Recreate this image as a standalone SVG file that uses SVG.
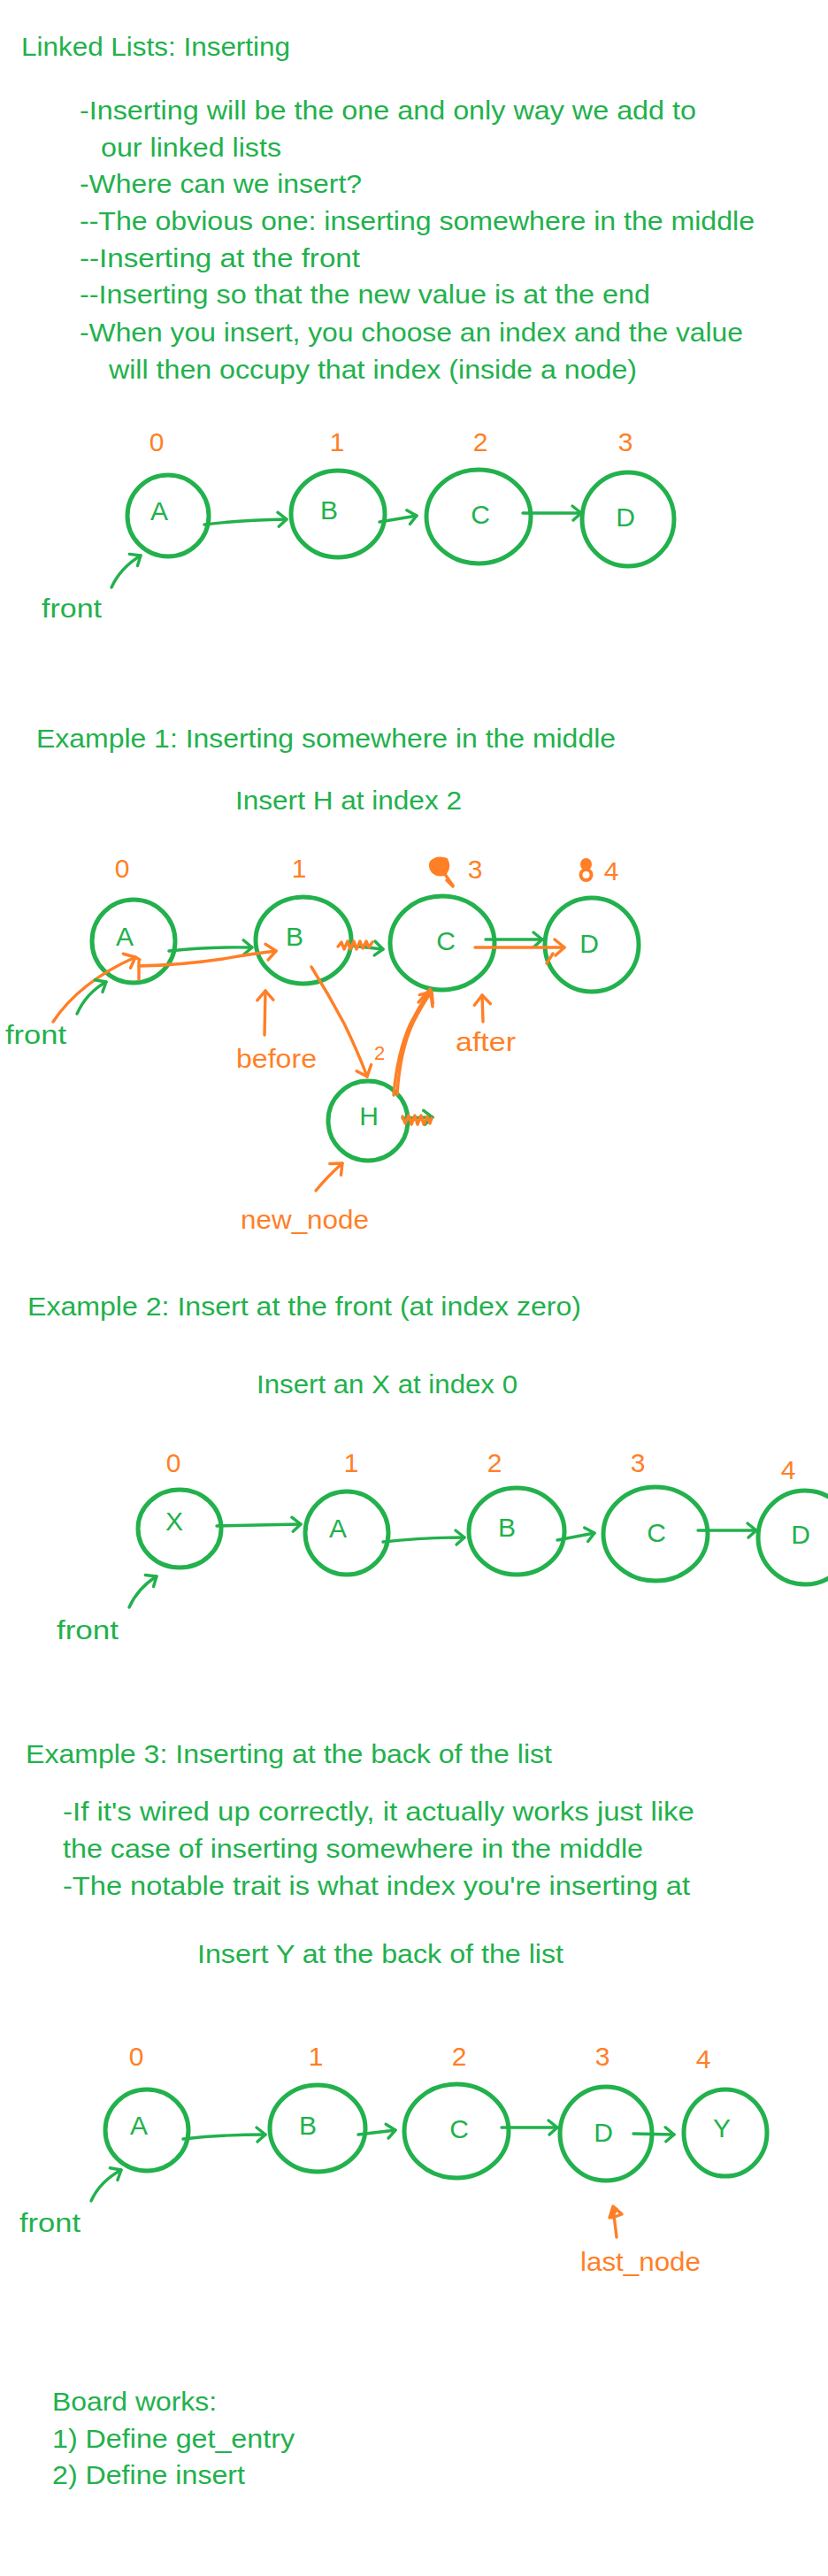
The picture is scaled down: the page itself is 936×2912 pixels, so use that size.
<svg xmlns="http://www.w3.org/2000/svg" width="936" height="2912" viewBox="0 0 936 2912">
<style>
text{font-family:"Liberation Sans",Arial,sans-serif;font-size:30px;fill:#22B14C}
.o{fill:#FF7F27}
.n{text-anchor:middle;font-size:30px}
.lbl{text-anchor:middle;font-size:30px;fill:#FF7F27}
ellipse{fill:none;stroke:#22B14C;stroke-width:5}
.g{fill:none;stroke:#22B14C;stroke-width:3.4;stroke-linecap:round;stroke-linejoin:round}
.r{fill:none;stroke:#FF7F27;stroke-width:3.4;stroke-linecap:round;stroke-linejoin:round}
.ga{marker-end:url(#ag)}
.ra{marker-end:url(#ao)}
</style>
<defs>
<marker id="ag" viewBox="-14 -11 17 22" markerWidth="17" markerHeight="22" refX="0" refY="0" orient="auto" markerUnits="userSpaceOnUse"><path d="M-10,-8 L0,0 L-9,8" fill="none" stroke="#22B14C" stroke-width="3.4" stroke-linecap="round" stroke-linejoin="round"/></marker>
<marker id="ao" viewBox="-14 -11 17 22" markerWidth="17" markerHeight="22" refX="0" refY="0" orient="auto" markerUnits="userSpaceOnUse"><path d="M-11,-9 L0,0 L-10,9" fill="none" stroke="#FF7F27" stroke-width="3.4" stroke-linecap="round" stroke-linejoin="round"/></marker>
</defs>
<rect width="936" height="2912" fill="#fff"/>

<g id="intro-text">
<text x="24" y="63" textLength="304" lengthAdjust="spacingAndGlyphs">Linked Lists: Inserting</text>
<text x="90" y="135" textLength="697" lengthAdjust="spacingAndGlyphs">-Inserting will be the one and only way we add to</text>
<text x="114" y="177" textLength="204" lengthAdjust="spacingAndGlyphs">our linked lists</text>
<text x="90" y="218" textLength="319" lengthAdjust="spacingAndGlyphs">-Where can we insert?</text>
<text x="90" y="260" textLength="763" lengthAdjust="spacingAndGlyphs">--The obvious one: inserting somewhere in the middle</text>
<text x="90" y="302" textLength="317" lengthAdjust="spacingAndGlyphs">--Inserting at the front</text>
<text x="90" y="343" textLength="645" lengthAdjust="spacingAndGlyphs">--Inserting so that the new value is at the end</text>
<text x="90" y="386" textLength="750" lengthAdjust="spacingAndGlyphs">-When you insert, you choose an index and the value</text>
<text x="123" y="428" textLength="597" lengthAdjust="spacingAndGlyphs">will then occupy that index (inside a node)</text>
</g>

<g id="s1-indices">
<text class="lbl" x="177" y="510">0</text>
<text class="lbl" x="381" y="510">1</text>
<text class="lbl" x="543" y="510">2</text>
<text class="lbl" x="707" y="510">3</text>
</g>
<g id="s1-node-A"><ellipse cx="190" cy="583" rx="46" ry="46"/><text class="n" x="180" y="588">A</text></g>
<g id="s1-node-B"><ellipse cx="382" cy="581" rx="53" ry="49"/><text class="n" x="372" y="587">B</text></g>
<g id="s1-node-C"><ellipse cx="541" cy="584" rx="59" ry="53"/><text class="n" x="543" y="592">C</text></g>
<g id="s1-node-D"><ellipse cx="710" cy="587" rx="52" ry="53"/><text class="n" x="707" y="595">D</text></g>
<g id="s1-front"><text x="47" y="698" textLength="68" lengthAdjust="spacingAndGlyphs">front</text></g>

<text x="41" y="845" textLength="655" lengthAdjust="spacingAndGlyphs">Example 1: Inserting somewhere in the middle</text>
<text x="266" y="915" textLength="256" lengthAdjust="spacingAndGlyphs">Insert H at index 2</text>

<g id="e1-indices">
<text class="lbl" x="138" y="992">0</text>
<text class="lbl" x="338" y="992">1</text>
<text class="lbl" x="537" y="993">3</text>
<text class="lbl" x="691" y="995">4</text>
<path d="M487 974 Q494 967 505 971 Q510 979 504 988 Q496 992 489 986 Q484 980 487 974 Z" fill="#FF7F27" stroke="#FF7F27" stroke-width="2"/>
<path class="r" d="M500 984 L512 1001 M505 995 L512 1002"/>
<ellipse cx="662.5" cy="977" rx="5" ry="5.5" style="stroke:#FF7F27;fill:#FF7F27;stroke-width:3"/>
<ellipse cx="662.5" cy="989" rx="6" ry="6" style="stroke:#FF7F27;fill:none;stroke-width:4"/>
</g>
<g id="e1-node-A"><ellipse cx="151" cy="1064" rx="47" ry="47"/><text class="n" x="141" y="1069">A</text></g>
<g id="e1-node-B"><ellipse cx="343" cy="1063" rx="54" ry="49"/><text class="n" x="333" y="1069">B</text></g>
<g id="e1-node-C"><ellipse cx="500" cy="1066" rx="59" ry="53"/><text class="n" x="504" y="1074">C</text></g>
<g id="e1-node-D"><ellipse cx="669" cy="1068" rx="53" ry="53"/><text class="n" x="666" y="1077">D</text></g>
<g id="e1-node-H"><ellipse cx="416" cy="1267" rx="45" ry="45"/><text class="n" x="417" y="1272">H</text></g>
<g id="e1-labels">
<text x="6" y="1180" textLength="69" lengthAdjust="spacingAndGlyphs">front</text>
<text class="o" x="267" y="1207" textLength="91" lengthAdjust="spacingAndGlyphs">before</text>
<text class="o" x="515" y="1188" textLength="68" lengthAdjust="spacingAndGlyphs">after</text>
<text class="o" x="272" y="1389" textLength="145" lengthAdjust="spacingAndGlyphs">new_node</text>
<text class="o" x="423" y="1198" style="font-size:22px">2</text>
</g>

<text x="31" y="1487" textLength="626" lengthAdjust="spacingAndGlyphs">Example 2: Insert at the front (at index zero)</text>
<text x="290" y="1575" textLength="295" lengthAdjust="spacingAndGlyphs">Insert an X at index 0</text>
<g id="e2-indices">
<text class="lbl" x="196" y="1664">0</text>
<text class="lbl" x="397" y="1664">1</text>
<text class="lbl" x="559" y="1664">2</text>
<text class="lbl" x="721" y="1664">3</text>
<text class="lbl" x="891" y="1672">4</text>
</g>
<g id="e2-node-X"><ellipse cx="203" cy="1728" rx="47" ry="44"/><text class="n" x="197" y="1730">X</text></g>
<g id="e2-node-A"><ellipse cx="392" cy="1733" rx="47" ry="47"/><text class="n" x="382" y="1738">A</text></g>
<g id="e2-node-B"><ellipse cx="584" cy="1731" rx="54" ry="49"/><text class="n" x="573" y="1737">B</text></g>
<g id="e2-node-C"><ellipse cx="741" cy="1734" rx="59" ry="53"/><text class="n" x="742" y="1743">C</text></g>
<g id="e2-node-D"><ellipse cx="910" cy="1738" rx="53" ry="53"/><text class="n" x="905" y="1745">D</text></g>
<g id="e2-front"><text x="64" y="1853" textLength="70" lengthAdjust="spacingAndGlyphs">front</text></g>

<g id="e3-text">
<text x="29" y="1993" textLength="595" lengthAdjust="spacingAndGlyphs">Example 3: Inserting at the back of the list</text>
<text x="71" y="2058" textLength="714" lengthAdjust="spacingAndGlyphs">-If it's wired up correctly, it actually works just like</text>
<text x="71" y="2100" textLength="656" lengthAdjust="spacingAndGlyphs">the case of inserting somewhere in the middle</text>
<text x="71" y="2142" textLength="709" lengthAdjust="spacingAndGlyphs">-The notable trait is what index you're inserting at</text>
<text x="223" y="2219" textLength="414" lengthAdjust="spacingAndGlyphs">Insert Y at the back of the list</text>
</g>
<g id="e3-indices">
<text class="lbl" x="154" y="2335">0</text>
<text class="lbl" x="357" y="2335">1</text>
<text class="lbl" x="519" y="2335">2</text>
<text class="lbl" x="681" y="2335">3</text>
<text class="lbl" x="795" y="2338">4</text>
</g>
<g id="e3-node-A"><ellipse cx="166" cy="2408" rx="47" ry="46"/><text class="n" x="157" y="2413">A</text></g>
<g id="e3-node-B"><ellipse cx="359" cy="2406" rx="54" ry="49"/><text class="n" x="348" y="2413">B</text></g>
<g id="e3-node-C"><ellipse cx="516" cy="2409" rx="59" ry="53"/><text class="n" x="519" y="2417">C</text></g>
<g id="e3-node-D"><ellipse cx="685" cy="2412" rx="52" ry="53"/><text class="n" x="682" y="2421">D</text></g>
<g id="e3-node-Y"><ellipse cx="820" cy="2411" rx="47" ry="49"/><text class="n" x="816" y="2416">Y</text></g>
<g id="e3-labels">
<text x="22" y="2523" textLength="69" lengthAdjust="spacingAndGlyphs">front</text>
<text class="o" x="656" y="2567" textLength="136" lengthAdjust="spacingAndGlyphs">last_node</text>
</g>

<g id="board-works">
<text x="59" y="2725" textLength="186" lengthAdjust="spacingAndGlyphs">Board works:</text>
<text x="59" y="2767" textLength="274" lengthAdjust="spacingAndGlyphs">1) Define get_entry</text>
<text x="59" y="2808" textLength="218" lengthAdjust="spacingAndGlyphs">2) Define insert</text>
</g>

<g id="connectors">
<path class="g ga" d="M231 593 Q270 588 324 587"/>
<path class="g ga" d="M429 590 L471 583"/>
<path class="g ga" d="M591 580 L657 580"/>
<path class="g ga" d="M126 664 Q136 642 159 628"/>
<path class="g ga" d="M191 1075 Q235 1070 285 1071"/>
<path class="r ra" d="M157 1092 Q205 1091 252 1084 Q285 1078 312 1075"/>
<path class="r" d="M157 1087 L157 1107 M153 1082 L158 1085"/>
<path class="r ra" d="M60 1155 Q90 1110 153 1082"/>
<path class="g ga" d="M87 1146 Q98 1122 120 1110"/>
<path class="g ga" d="M396 1069 L433 1073"/>
<path class="r" d="M382 1070 l4 -5 l3 8 l4 -9 l3 9 l4 -9 l3 9 l4 -9 l3 8 l4 -8 l3 7 l4 -6"/>
<path class="g ga" d="M549 1062 L613 1062"/>
<path class="r ra" d="M537 1071 L638 1071"/>
<path class="r" d="M625 1078 L618 1089"/>
<path class="r ra" d="M352 1093 Q372 1125 389 1157 Q405 1190 415 1217"/>
<path class="r" d="M445 1238 Q449 1190 464 1157 Q474 1138 485 1121"/>
<path class="r ra" d="M449 1237 Q452 1188 467 1156 Q477 1136 488 1121"/>
<path class="r" d="M473 1133 L486 1118 L489 1138 M478 1128 L487 1125"/>
<path class="g ga" d="M455 1264 L489 1263"/>
<path class="r" d="M455 1262 l3 8 l4 -9 l3 10 l4 -10 l3 10 l4 -10 l3 10 l4 -9 l3 8 l2 -6"/>
<path class="r ra" d="M299 1170 L300 1120"/>
<path class="r ra" d="M546 1155 L545 1125"/>
<path class="r ra" d="M357 1346 Q370 1330 387 1315"/>
<path class="g ga" d="M245 1725 Q290 1724 340 1723"/>
<path class="g ga" d="M433 1743 Q480 1738 525 1738"/>
<path class="g ga" d="M630 1741 L672 1733"/>
<path class="g ga" d="M789 1730 L855 1730"/>
<path class="g ga" d="M146 1817 Q156 1795 177 1782"/>
<path class="g ga" d="M207 2418 Q250 2413 300 2413"/>
<path class="g ga" d="M405 2413 L447 2408"/>
<path class="g ga" d="M567 2405 L630 2405"/>
<path class="g ga" d="M716 2412 L762 2413"/>
<path class="g ga" d="M103 2488 Q113 2466 137 2453"/>
<path class="r" d="M697 2529 L693 2496 M689 2507 L693 2494 L703 2503 L692 2507 L697 2497"/>
</g>
</svg>
